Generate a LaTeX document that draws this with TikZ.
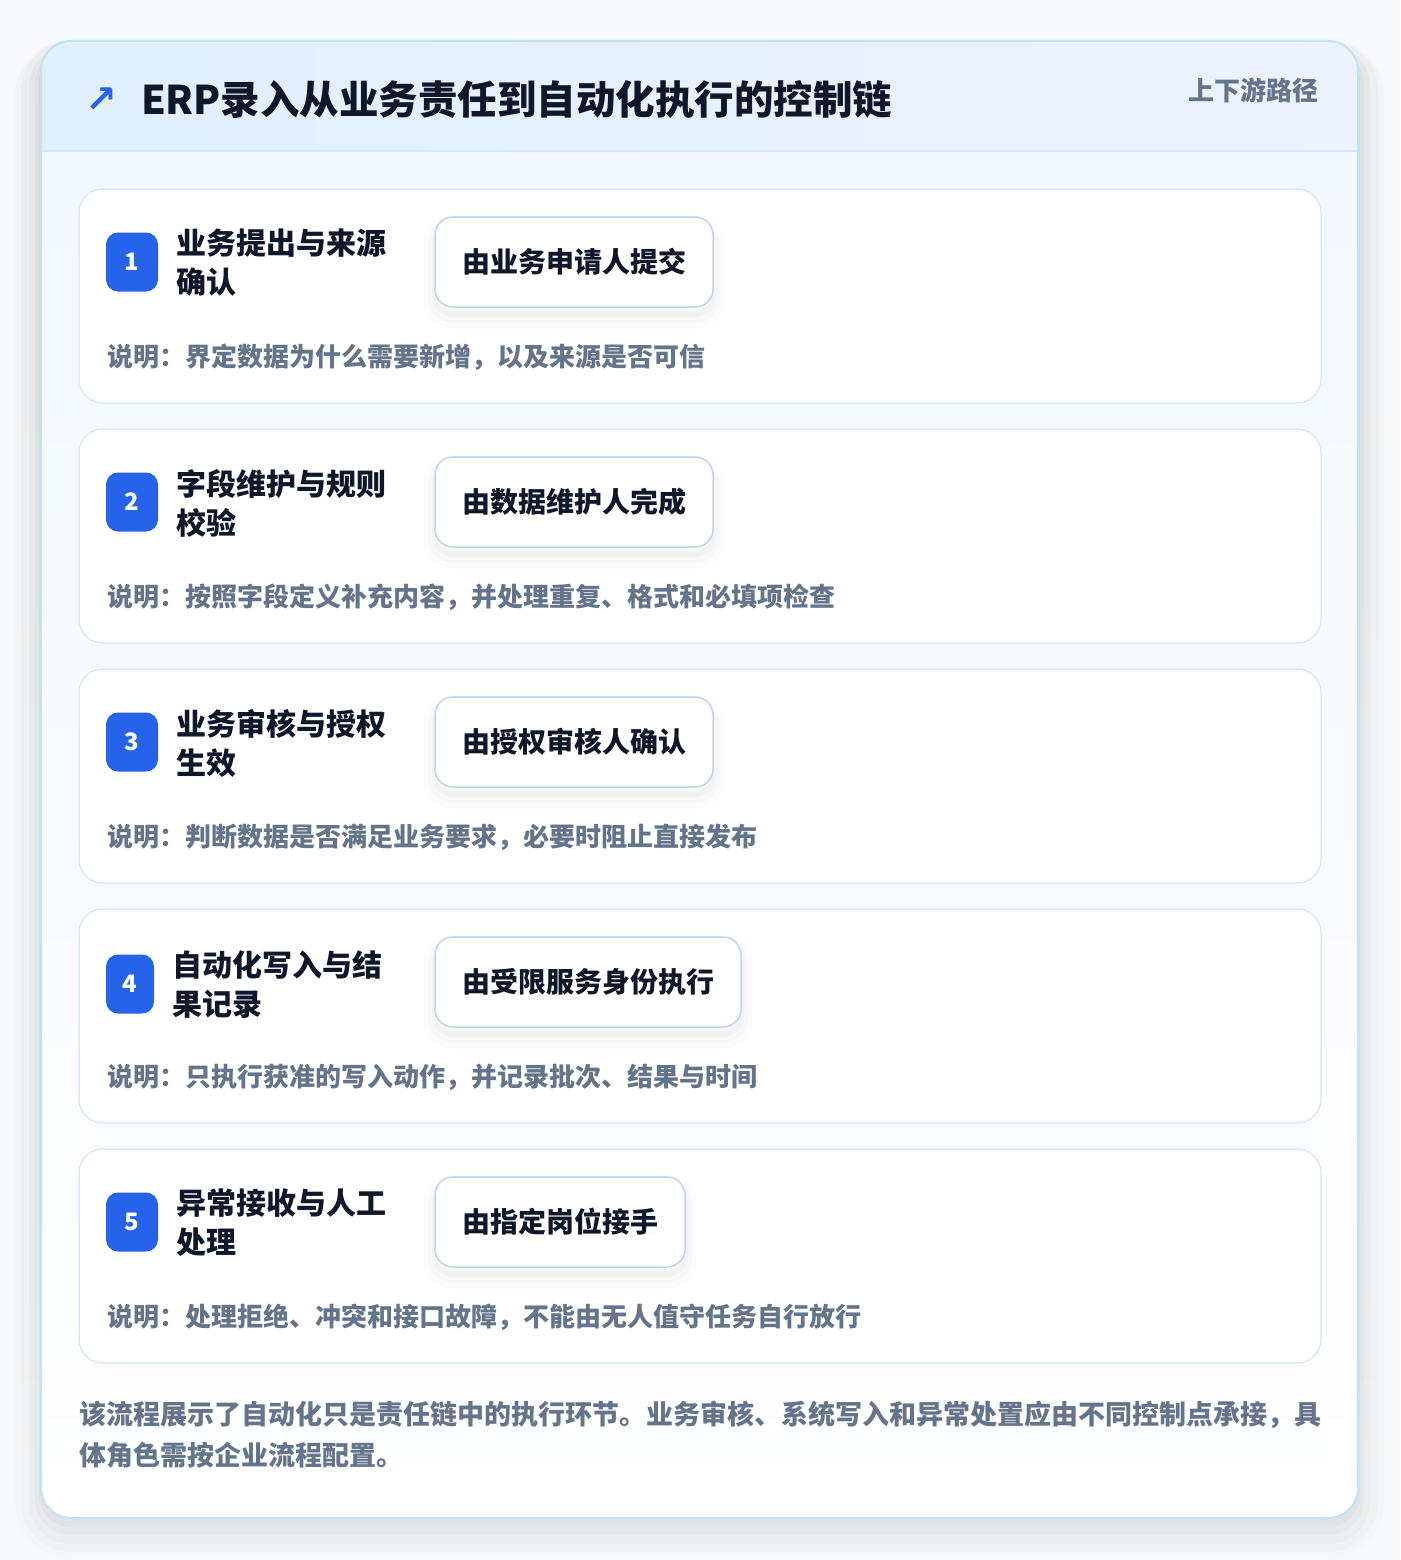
\documentclass[tikz,border=0pt]{standalone}
\usepackage{fontspec}
\setmainfont{Noto Sans CJK SC}
\newfontfamily\symfont{DejaVu Sans}
\usetikzlibrary{calc}

\definecolor{pagebg}{HTML}{F8F9FA}
\definecolor{shade}{HTML}{1E293B}
\definecolor{frameline}{HTML}{BFE3F7}
\definecolor{headleft}{HTML}{E0F0FE}
\definecolor{headright}{HTML}{ECF2FE}
\definecolor{headline}{HTML}{D3E6F8}
\definecolor{bodytop}{HTML}{F2F8FF}
\definecolor{cardline}{HTML}{DCEAF7}
\definecolor{roleline}{HTML}{BCD5F0}
\definecolor{badgeblue}{HTML}{2563EB}
\definecolor{ink}{HTML}{0F172A}
\definecolor{muted}{HTML}{64748B}

\begin{document}
\begin{tikzpicture}[x=1pt,y=-1pt,
    every node/.style={inner sep=0pt,outer sep=0pt},
    card/.style={draw=cardline,line width=1.5pt,fill=white,rounded corners=24pt,
      minimum width=1242pt,minimum height=214pt},
    badge/.style={fill=badgeblue,rounded corners=12pt,minimum width=52pt,
      minimum height=59pt,text=white,font=\fontsize{24}{24}\selectfont\bfseries},
    steptitle/.style={anchor=west,align=left,text=ink,
      font=\fontsize{30}{39}\selectfont\bfseries},
    role/.style={anchor=west,draw=roleline,line width=1.5pt,fill=white,
      rounded corners=18pt,minimum height=90pt,inner xsep=27pt,text=ink,
      font=\fontsize{28}{28}\selectfont\bfseries,
      preaction={draw=shade,draw opacity=.012,line width=24pt,transform canvas={yshift=-10pt}},
      preaction={draw=shade,draw opacity=.015,line width=14pt,transform canvas={yshift=-9pt}},
      preaction={draw=shade,draw opacity=.018,line width=6pt,transform canvas={yshift=-7pt}}},
    note/.style={anchor=west,text=muted,font=\fontsize{26}{26}\selectfont\bfseries}]

    \useasboundingbox (0,0) rectangle (1400,1560);
    \fill[pagebg] (0,0) rectangle (1400,1560);

    % soft shadow under the frame
    \fill[shade,opacity=.012,rounded corners=56pt] (15,40) rectangle (1384,1558);
    \fill[shade,opacity=.015,rounded corners=50pt] (21,41) rectangle (1378,1552);
    \fill[shade,opacity=.018,rounded corners=42pt] (29,45) rectangle (1370,1544);
    \fill[shade,opacity=.02,rounded corners=36pt] (35,48) rectangle (1364,1535);
    \fill[shade,opacity=.025,rounded corners=32pt] (39,50) rectangle (1360,1527);

    % outer frame with header band
    \begin{scope}
      \clip[rounded corners=30pt] (41,41) rectangle (1358,1518);
      \fill[left color=headleft,right color=headright] (41,41) rectangle (1358,151);
      \fill[top color=bodytop,bottom color=white] (41,151) rectangle (1358,1518);
    \end{scope}
    \draw[headline,line width=1.5pt] (42,151) -- (1357,151);
    \draw[frameline,line width=2pt,rounded corners=30pt] (41,41) rectangle (1358,1518);

    \node (ico) [text=badgeblue,font=\symfont\bfseries\fontsize{38}{38}\selectfont] at (101,100) {↗};
    \node (ttl) [anchor=west,text=ink,font=\fontsize{39.5}{40}\selectfont\bfseries] at (141,100)
      {ERP录入从业务责任到自动化执行的控制链};
    \node (path) [anchor=east,text=muted,font=\fontsize{26}{26}\selectfont\bfseries] at (1318,90)
      {上下游路径};

    % step 1
    \node (cA) [card] at (700,296) {};
    \node (bA) [badge] at ($(cA.west)+(53,-34)$) {1};
    \node (tA) [steptitle] at ($(cA.west)+(97,-33)$) {业务提出与来源\\确认};
    \node (rA) [role] at ($(cA.west)+(356,-34)$) {由业务申请人提交};
    \node (dA) [note] at ($(cA.west)+(28,61)$) {说明：界定数据为什么需要新增，以及来源是否可信};

    % step 2
    \node (cB) [card] at (700,536) {};
    \node (bB) [badge] at ($(cB.west)+(53,-34)$) {2};
    \node (tB) [steptitle] at ($(cB.west)+(97,-33)$) {字段维护与规则\\校验};
    \node (rB) [role] at ($(cB.west)+(356,-34)$) {由数据维护人完成};
    \node (dB) [note] at ($(cB.west)+(28,61)$) {说明：按照字段定义补充内容，并处理重复、格式和必填项检查};

    % step 3
    \node (cC) [card] at (700,776) {};
    \node (bC) [badge] at ($(cC.west)+(53,-34)$) {3};
    \node (tC) [steptitle] at ($(cC.west)+(97,-33)$) {业务审核与授权\\生效};
    \node (rC) [role] at ($(cC.west)+(356,-34)$) {由授权审核人确认};
    \node (dC) [note] at ($(cC.west)+(28,61)$) {说明：判断数据是否满足业务要求，必要时阻止直接发布};

    % step 4
    \node (cD) [card] at (700,1016) {};
    \node (bD) [badge,minimum width=48pt] at ($(cD.west)+(51,-32)$) {4};
    \node (tD) [steptitle] at ($(cD.west)+(93,-31)$) {自动化写入与结\\果记录};
    \node (rD) [role] at ($(cD.west)+(356,-34)$) {由受限服务身份执行};
    \node (dD) [note] at ($(cD.west)+(28,61)$) {说明：只执行获准的写入动作，并记录批次、结果与时间};

    % step 5
    \node (cE) [card] at (700,1256) {};
    \node (bE) [badge] at ($(cE.west)+(53,-34)$) {5};
    \node (tE) [steptitle] at ($(cE.west)+(97,-33)$) {异常接收与人工\\处理};
    \node (rE) [role] at ($(cE.west)+(356,-34)$) {由指定岗位接手};
    \node (dE) [note] at ($(cE.west)+(28,61)$) {说明：处理拒绝、冲突和接口故障，不能由无人值守任务自行放行};

    \node (sum) [anchor=west,align=left,text=muted,font=\fontsize{27}{41}\selectfont\bfseries]
      at ($(cE.south west)+(0,72)$)
      {该流程展示了自动化只是责任链中的执行环节。业务审核、系统写入和异常处置应由不同控制点承接，具\\体角色需按企业流程配置。};
  \end{tikzpicture}
\end{document}
